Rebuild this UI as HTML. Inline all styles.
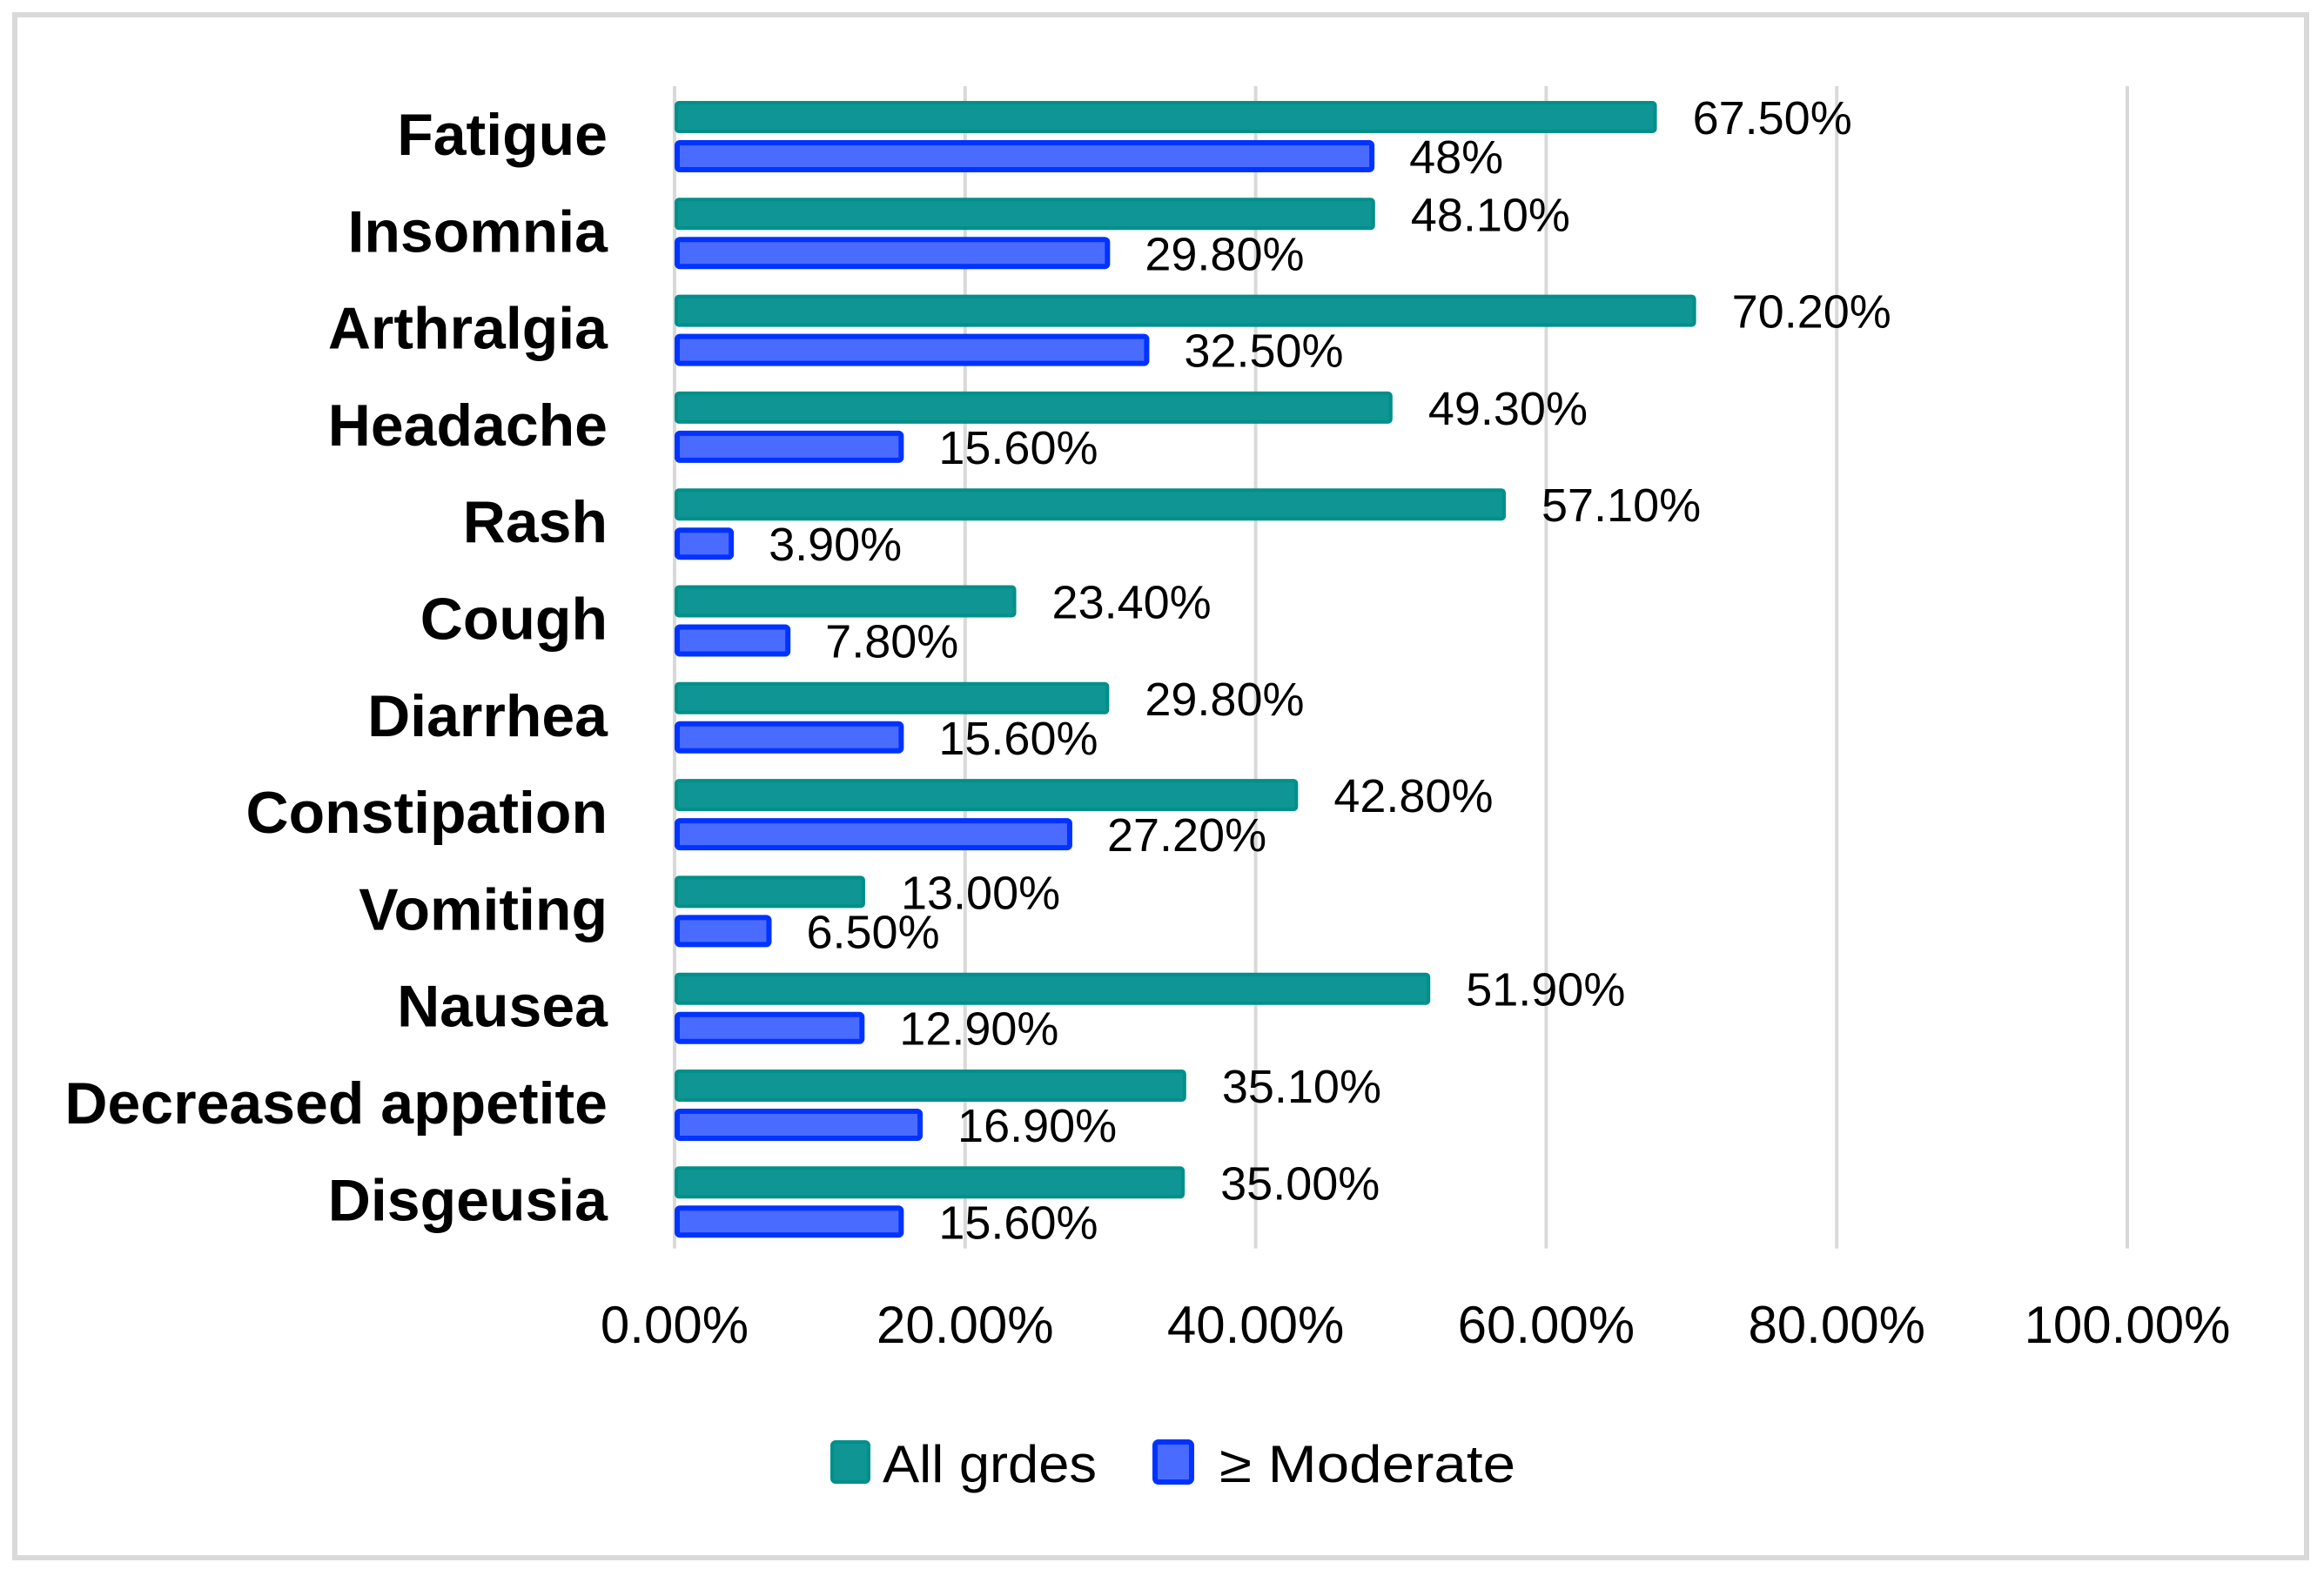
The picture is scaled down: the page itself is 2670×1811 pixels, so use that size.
<!DOCTYPE html>
<html><head><meta charset="utf-8"><style>
html,body{margin:0;padding:0;background:#fff;}
svg{display:block;}
</style></head><body>
<svg id="chart" width="2670" height="1811" viewBox="0 0 2670 1811" xmlns="http://www.w3.org/2000/svg">
<rect x="17" y="17" width="2633" height="1773" fill="#fff" stroke="#D9D9D9" stroke-width="6"/>
<g id="grid"></g>
<g id="bars"></g>
<g id="labels"></g>
<g id="ticks"></g>
<g>
  <g>
    <rect x="956" y="1657" width="42" height="46" rx="4" fill="#0E9594" stroke="#008F8A" stroke-width="4"/>
    <text x="1014" y="1703" font-family="Liberation Sans, sans-serif" font-size="60" textLength="246" lengthAdjust="spacingAndGlyphs">All grdes</text>
  </g>
  <g>
    <rect x="1327" y="1657" width="42" height="46" rx="4" fill="#4A6BFF" stroke="#0033FF" stroke-width="6"/>
    <text x="1401" y="1703" font-family="Liberation Sans, sans-serif" font-size="60" textLength="340" lengthAdjust="spacingAndGlyphs">≥ Moderate</text>
  </g>
</g>
</svg>
<script>
const categories = ["Fatigue","Insomnia","Arthralgia","Headache","Rash","Cough","Diarrhea","Constipation","Vomiting","Nausea","Decreased appetite","Disgeusia"];
const allGrades = [67.5,48.1,70.2,49.3,57.1,23.4,29.8,42.8,13.0,51.9,35.1,35.0];
const allGradesText = ["67.50%","48.10%","70.20%","49.30%","57.10%","23.40%","29.80%","42.80%","13.00%","51.90%","35.10%","35.00%"];
const moderate = [48,29.8,32.5,15.6,3.9,7.8,15.6,27.2,6.5,12.9,16.9,15.6];
const moderateText = ["48%","29.80%","32.50%","15.60%","3.90%","7.80%","15.60%","27.20%","6.50%","12.90%","16.90%","15.60%"];
const tickValues = [0,20,40,60,80,100];
const tickLabels = ["0.00%","20.00%","40.00%","60.00%","80.00%","100.00%"];

const NS = "http://www.w3.org/2000/svg";
const X0 = 775, X1 = 2444, TOP = 99, PITCH = 111.3, BOTTOM = 99 + 12*111.3;
const xScale = v => X0 + (X1 - X0) * v / 100;
const yGroup = i => TOP + i * PITCH;
const FONT = "Liberation Sans, sans-serif";
function mk(tag, attrs, parent, text) {
  const el = document.createElementNS(NS, tag);
  for (const k in attrs) el.setAttribute(k, attrs[k]);
  if (text !== undefined) el.textContent = text;
  parent.appendChild(el);
  return el;
}
const grid = document.getElementById('grid');
const bars = document.getElementById('bars');
const labels = document.getElementById('labels');
const ticks = document.getElementById('ticks');

tickValues.forEach((v, i) => {
  const l = mk('line', {x1: xScale(v), x2: xScale(v), y1: TOP, y2: BOTTOM, stroke: '#D9D9D9', 'stroke-width': 4}, grid);
  
  
  const t = mk('text', {x: xScale(v), y: 1543, 'text-anchor': 'middle', 'font-family': FONT, 'font-size': 60}, ticks, tickLabels[i]);
  
  
});

categories.forEach((c, i) => {
  const g0 = yGroup(i);
  const lab = mk('text', {x: 698, y: g0 + 79, 'text-anchor': 'end', 'font-family': FONT, 'font-size': 68, 'font-weight': 'bold'}, labels, c);
  
  

  const b1 = mk('rect', {x: X0 + 2, y: g0 + 19, width: Math.max(0, xScale(allGrades[i]) - X0 - 2), height: 33, rx: 3, fill: '#0E9594', stroke: '#008F8A', 'stroke-width': 4}, bars);
  
  
  const b2 = mk('rect', {x: X0 + 3, y: g0 + 65, width: Math.max(0, xScale(moderate[i]) - X0 - 3), height: 31, rx: 3, fill: '#4A6BFF', stroke: '#0033FF', 'stroke-width': 6}, bars);
  
  

  const v1 = mk('text', {x: xScale(allGrades[i]) + 43, y: g0 + 55, 'font-family': FONT, 'font-size': 54}, labels, allGradesText[i]);
  
  
  const v2 = mk('text', {x: xScale(moderate[i]) + 43, y: g0 + 100, 'font-family': FONT, 'font-size': 54}, labels, moderateText[i]);
  
  
});
</script>
</body></html>
